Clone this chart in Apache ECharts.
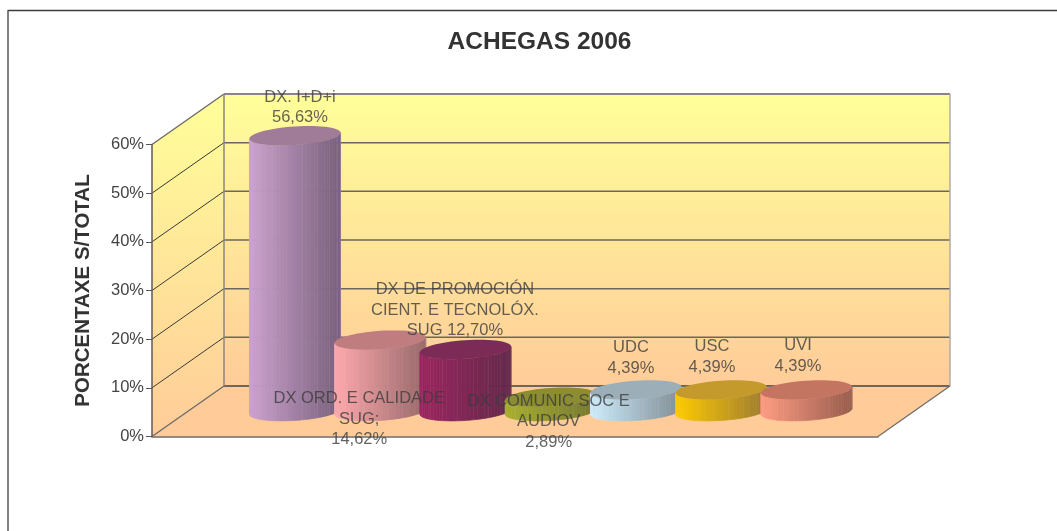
<!DOCTYPE html>
<html>
<head>
<meta charset="utf-8">
<title>ACHEGAS 2006</title>
<script src="https://cdn.jsdelivr.net/npm/echarts@6/dist/echarts.min.js"></script>
<style>
html, body { margin: 0; padding: 0; background: #fff; }
#chart { width: 1057px; height: 531px; }
</style>
</head>
<body>
<div id="chart"></div>
<script>
// data
var labelNames = ['DX. I+D+i', 'DX ORD. E CALIDADE\nSUG;', 'DX DE PROMOCIÓN\nCIENT. E TECNOLÓX.\nSUG', 'DX COMUNIC SOC E\nAUDIOV', 'UDC', 'USC', 'UVI'];
var labelSeparators = ['\n', '\n', ' ', '\n', '\n', '\n', '\n'];
var values = [56.63, 14.62, 12.70, 2.89, 4.39, 4.39, 4.39];
var yTicks = [0, 10, 20, 30, 40, 50, 60];

// light side, dark side, top face
var lightColors = ['#ccA2cf', '#ffaaaf', '#9c2660', '#a8b030', '#cdeeff', '#ffcc00', '#ff9c84'];
var darkColors = ['#7c6380', '#9c6c6e', '#64284c', '#787a34', '#84929a', '#a07e30', '#9c5f50'];
var topColors = ['#a07c98', '#c07d80', '#7b2b56', '#8c8c34', '#9cafb9', '#c49a2c', '#c47562'];

// label offsets from each value point on the front plane, in pixels
var labelOffsets = [[41, -53.5], [15, 54], [25.5, -64.7], [34, -0.5], [31, -57], [26.7, -58], [27.5, -59]];

// oblique projection of the chart box
var DEPTH_X = 72;
var DEPTH_Y = 50.5;
var RADIUS_X = 43.4;
var RADIUS_SKEW = 13.8;
var RADIUS_Y = 9.7;
var FACETS = 36;

function hexToRgb(hex) {
    return [1, 3, 5].map(function (p) {
        return parseInt(hex.substr(p, 2), 16);
    });
}

function mixColor(a, b, t) {
    var ca = hexToRgb(a), cb = hexToRgb(b);
    return 'rgb(' + ca.map(function (c, i) {
        return Math.round(c + (cb[i] - c) * t);
    }).join(',') + ')';
}

function ringPoint(cx, cy, t) {
    return [
        cx + RADIUS_X * Math.cos(t) + RADIUS_SKEW * Math.sin(t),
        cy - RADIUS_Y * Math.sin(t)
    ];
}

function renderBox(params, api) {
    var bl = api.coord([xMin, 0]);
    var br = api.coord([xMax, 0]);
    var tl = api.coord([xMin, 60]);
    var children = [];
    var wallGradient = new echarts.graphic.LinearGradient(0, 0, 0, 1, [
        { offset: 0, color: '#ffff99' },
        { offset: 1, color: '#ffcc99' }
    ]);
    // floor
    children.push({
        type: 'polygon',
        shape: { points: [bl, br, [br[0] + DEPTH_X, br[1] - DEPTH_Y], [bl[0] + DEPTH_X, bl[1] - DEPTH_Y]] },
        style: { fill: '#ffcc99' }
    });
    // side wall
    children.push({
        type: 'polygon',
        shape: { points: [bl, tl, [tl[0] + DEPTH_X, tl[1] - DEPTH_Y], [bl[0] + DEPTH_X, bl[1] - DEPTH_Y]] },
        style: { fill: wallGradient }
    });
    // back wall
    children.push({
        type: 'rect',
        shape: { x: bl[0] + DEPTH_X, y: tl[1] - DEPTH_Y, width: br[0] - bl[0], height: bl[1] - tl[1] },
        style: { fill: wallGradient }
    });
    // grid lines on both walls
    yTicks.forEach(function (tick) {
        var p = api.coord([xMin, tick]);
        var q = api.coord([xMax, tick]);
        var isEdge = tick === 0 || tick === 60;
        children.push({
            type: 'line',
            shape: { x1: p[0], y1: p[1], x2: p[0] + DEPTH_X, y2: p[1] - DEPTH_Y },
            style: { stroke: isEdge ? '#6f6a68' : '#3a3a36', lineWidth: isEdge ? 1.4 : 1 }
        });
        children.push({
            type: 'line',
            shape: { x1: p[0] + DEPTH_X, y1: p[1] - DEPTH_Y, x2: q[0] + DEPTH_X, y2: q[1] - DEPTH_Y },
            style: { stroke: tick === 60 ? '#8a8482' : '#6b6660', lineWidth: isEdge ? 2 : 1.5 }
        });
    });
    // back wall uprights
    children.push({
        type: 'line',
        shape: { x1: bl[0] + DEPTH_X, y1: bl[1] - DEPTH_Y, x2: tl[0] + DEPTH_X, y2: tl[1] - DEPTH_Y },
        style: { stroke: '#8a8482', lineWidth: 1.5 }
    });
    children.push({
        type: 'line',
        shape: { x1: br[0] + DEPTH_X, y1: br[1] - DEPTH_Y, x2: br[0] + DEPTH_X, y2: tl[1] - DEPTH_Y },
        style: { stroke: '#b0aca6', lineWidth: 1.5 }
    });
    // floor right edge
    children.push({
        type: 'line',
        shape: { x1: br[0], y1: br[1], x2: br[0] + DEPTH_X, y2: br[1] - DEPTH_Y },
        style: { stroke: '#6f6a68', lineWidth: 1.2 }
    });
    return { type: 'group', children: children };
}

function renderCylinder(params, api) {
    var i = api.value(0);
    var base = api.coord([i, 0]);
    var head = api.coord([i, api.value(1)]);
    var cx = base[0] + DEPTH_X / 2;
    var baseY = base[1] - DEPTH_Y / 2;
    var topY = head[1] - DEPTH_Y / 2;
    var children = [];
    var silhouette = Math.atan2(RADIUS_SKEW, RADIUS_X);
    var halfWidth = Math.sqrt(RADIUS_X * RADIUS_X + RADIUS_SKEW * RADIUS_SKEW);
    // front half of the wall, left silhouette round to the right one
    for (var f = 0; f < FACETS; f++) {
        var t0 = silhouette + Math.PI + Math.PI * f / FACETS;
        var t1 = silhouette + Math.PI + Math.PI * (f + 1) / FACETS;
        var a = ringPoint(cx, baseY, t0);
        var b = ringPoint(cx, baseY, t1);
        var c = ringPoint(cx, topY, t1);
        var d = ringPoint(cx, topY, t0);
        var shade = (((a[0] + b[0]) / 2) - cx + halfWidth) / (2 * halfWidth);
        var fill = mixColor(lightColors[i], darkColors[i], Math.min(1, shade * 1.05));
        children.push({
            type: 'polygon',
            shape: { points: [a, b, c, d] },
            style: { fill: fill, stroke: fill, lineWidth: 0.6 }
        });
        // pale seams between some facets
        if (f % 4 === 3) {
            children.push({
                type: 'line',
                shape: { x1: b[0], y1: b[1], x2: c[0], y2: c[1] },
                style: { stroke: 'rgba(255,235,225,0.16)', lineWidth: 1 }
            });
        }
    }
    var ring = [];
    for (var k = 0; k < 60; k++) {
        ring.push(ringPoint(cx, topY, Math.PI * 2 * k / 60));
    }
    children.push({
        type: 'polygon',
        shape: { points: ring },
        style: { fill: topColors[i] }
    });
    return { type: 'group', children: children };
}

// one unit of x is one cylinder step
var xMin = -1.255;
var xMax = 7.261;

var cylinderData = values.map(function (v, i) {
    return [i, v];
});

var labelData = values.map(function (v, i) {
    return {
        value: [i, v],
        label: {
            offset: labelOffsets[i],
            formatter: labelNames[i] + labelSeparators[i] + v.toFixed(2).replace('.', ',') + '%'
        }
    };
});

var chart = echarts.init(document.getElementById('chart'), null, { renderer: 'canvas' });
chart.setOption({
    animation: false,
    backgroundColor: '#ffffff',
    textStyle: { fontFamily: '"Liberation Sans", Arial, sans-serif' },
    title: {
        text: 'ACHEGAS 2006',
        left: 534.5,
        top: 25,
        textAlign: 'center',
        textStyle: { fontSize: 24.5, fontWeight: 'bold', color: '#333333', fontFamily: '"Liberation Sans", Arial, sans-serif' }
    },
    graphic: [
        { type: 'line', shape: { x1: 8, y1: 10.5, x2: 1057, y2: 10.5 }, style: { stroke: '#3c3c3c', lineWidth: 1.4 } },
        { type: 'line', shape: { x1: 8, y1: 10, x2: 8, y2: 531 }, style: { stroke: '#4c4c4c', lineWidth: 1.4 } }
    ],
    grid: { left: 152, right: 179, top: 144.5, bottom: 94.5 },
    xAxis: {
        type: 'value',
        min: xMin,
        max: xMax,
        z: 2,
        splitLine: { show: false },
        axisTick: { show: false },
        axisLabel: { show: false },
        axisLine: { onZero: false, lineStyle: { color: '#6f6a68', width: 1.6 } }
    },
    yAxis: {
        type: 'value',
        min: 0,
        max: 60,
        interval: 10,
        z: 2,
        name: 'PORCENTAXE S/TOTAL',
        nameLocation: 'middle',
        nameGap: 58,
        nameTextStyle: { fontSize: 20.5, fontWeight: 'bold', color: '#333333' },
        splitLine: { show: false },
        axisTick: { show: true, length: 6, lineStyle: { color: '#555555' } },
        axisLine: { show: true, onZero: false, lineStyle: { color: '#5f5a58', width: 1.5 } },
        axisLabel: { formatter: '{value}%', fontSize: 16.5, color: '#444444', margin: 8 }
    },
    series: [
        {
            type: 'custom',
            z: 1,
            clip: false,
            silent: true,
            renderItem: renderBox,
            data: [[0, 0]]
        },
        {
            type: 'custom',
            z: 3,
            clip: false,
            silent: true,
            renderItem: renderCylinder,
            encode: { x: 0, y: 1 },
            data: cylinderData
        },
        {
            type: 'scatter',
            z: 4,
            symbolSize: 0,
            silent: true,
            clip: false,
            label: {
                show: true,
                position: 'inside',
                fontSize: 16.5,
                lineHeight: 20.5,
                color: '#3c3c3c',
                align: 'center',
                verticalAlign: 'middle'
            },
            data: labelData
        }
    ]
});
</script>
</body>
</html>
